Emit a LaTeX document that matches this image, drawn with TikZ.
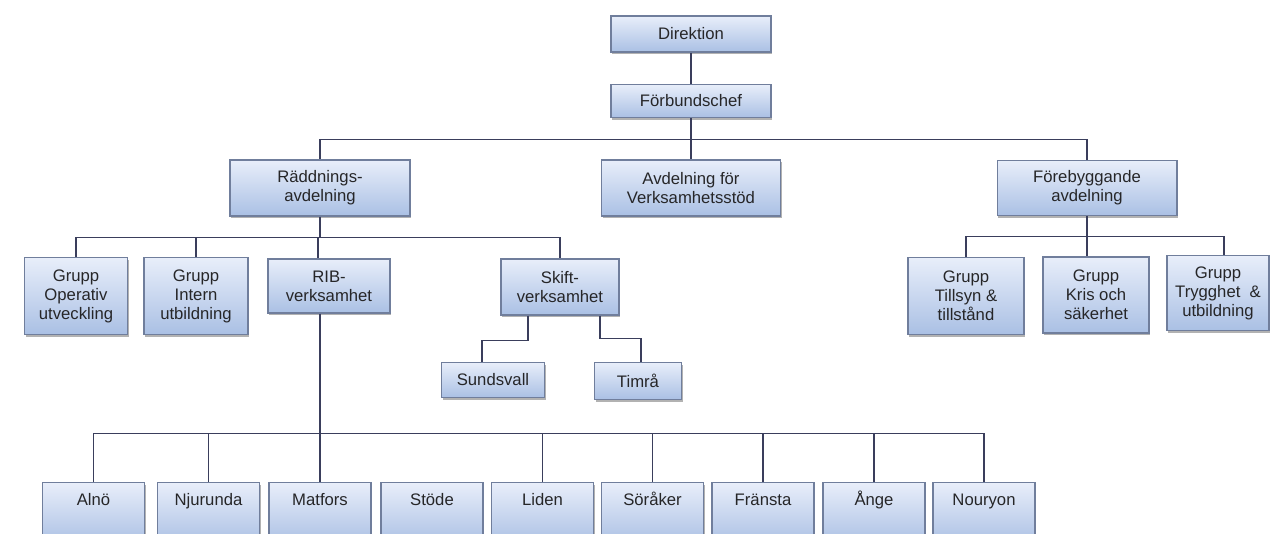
\documentclass[tikz,border=0pt]{standalone}
\usepackage{fontspec}
\setmainfont{Liberation Sans}
\usetikzlibrary{shadows,calc}
\definecolor{cTop}{RGB}{232,238,250}
\definecolor{cBot}{RGB}{170,192,228}
\definecolor{cEdge}{RGB}{112,126,156}
\definecolor{cLine}{RGB}{58,62,92}
\definecolor{cText}{RGB}{38,38,40}

\tikzset{
  box/.style={draw=cEdge, line width=0.6pt, top color=cTop, bottom color=cBot,
    align=center, inner sep=1pt, text=cText,
    font=\fontsize{9.5}{10.8}\selectfont,
    drop shadow={shadow xshift=0.6pt, shadow yshift=-1.4pt, fill=black, opacity=0.3}},
  station/.style={box, anchor=north, minimum width=2.04cm,
    text height=0.42cm, text depth=0.75cm},
  conn/.style={draw=cLine, line width=1pt}
}

\begin{document}
\begin{tikzpicture}[x=0.02cm, y=-0.02cm]
        \useasboundingbox (0,0) rectangle (1271,534);
        \clip (0,0) rectangle (1271,534);

        % top
        \node[box, minimum width=3.2cm, minimum height=0.72cm] (dir) at (691,34) {Direktion};
        \node[box, minimum width=3.2cm, minimum height=0.66cm] (chef) at (691,101) {Förbundschef};

        % avdelningar
        \node[box, minimum width=3.6cm, minimum height=1.12cm] (radd) at (320,188) {Räddnings-\\avdelning};
        \node[box, minimum width=3.58cm, minimum height=1.12cm] (stod) at (691,188) {Avdelning för\\Verksamhetsstöd};
        \node[box, minimum width=3.6cm, minimum height=1.1cm] (fore) at (1087,188) {Förebyggande\\avdelning};

        % under räddning
        \node[box, minimum width=2.06cm, minimum height=1.54cm] (gop) at (76,296) {Grupp\\Operativ\\utveckling};
        \node[box, minimum width=2.08cm, minimum height=1.54cm] (gint) at (196,296) {Grupp\\Intern\\utbildning};
        \node[box, minimum width=2.44cm, minimum height=1.08cm] (rib) at (329,286) {RIB-\\verksamhet};
        \node[box, minimum width=2.36cm, minimum height=1.12cm] (skift) at (560,287) {Skift-\\verksamhet};
        \node[box, minimum width=2.06cm, minimum height=0.7cm] (sund) at (493,380) {Sundsvall};
        \node[box, minimum width=1.74cm, minimum height=0.74cm] (timra) at (638,381) {Timrå};

        % under förebyggande
        \node[box, minimum width=2.32cm, minimum height=1.54cm] (tills) at (966,296) {Grupp\\Tillsyn \&\\tillstånd};
        \node[box, minimum width=2.12cm, minimum height=1.52cm] (kris) at (1096,295) {Grupp\\Kris och\\säkerhet};
        \node[box, minimum width=2.04cm, minimum height=1.5cm] (tryg) at (1218,293) {Grupp\\Trygghet \ \&\\utbildning};

        % RIB-stationer
        \foreach \n/\t/\x in {alno/Alnö/93.5, nju/Njurunda/208.5, mat/Matfors/320,
                              stode/Stöde/432, liden/Liden/542.5, sor/Söråker/652.5,
                              fran/Fränsta/763, ange/Ånge/874, nour/Nouryon/984}
            \node[station] (\n) at (\x,482) {\t};

        % connectors
        \draw[conn] (dir.south) -- (chef.north);
        \draw[conn] (chef.south) -- ++(0,21.5) coordinate (bus1);
        \foreach \n in {radd,stod,fore}
            \draw[conn] (bus1) -| (\n.north);

        \draw[conn] (radd.south) -- ++(0,21) coordinate (bus2);
        \foreach \n in {gop,gint,skift}
            \draw[conn] (bus2) -| (\n.north);
        \draw[conn] (bus2) -| ($(rib.north)+(-11,0)$);

        \draw[conn] (fore.south) -- ++(0,20.5) coordinate (bus3);
        \draw[conn] (bus3) -| (tills.north);
        \draw[conn] (bus3) -| ($(kris.north)+(-9,0)$);
        \draw[conn] (bus3) -| ($(tryg.north)+(6,0)$);

        \draw[conn] ($(skift.south)+(-32,0)$) -- ++(0,25) -| ($(sund.north)+(-11,0)$);
        \draw[conn] ($(skift.south)+(40,0)$) -- ++(0,23) -| ($(timra.north)+(3,0)$);

        \draw[conn] ($(rib.south)+(-9,0)$) -- ++(0,120) coordinate (bus4);
        \draw[conn] (bus4) -- (mat.north);
        \foreach \n in {alno,nju,liden,sor,fran,ange,nour}
            \draw[conn] (bus4) -| (\n.north);
\end{tikzpicture}
\end{document}
